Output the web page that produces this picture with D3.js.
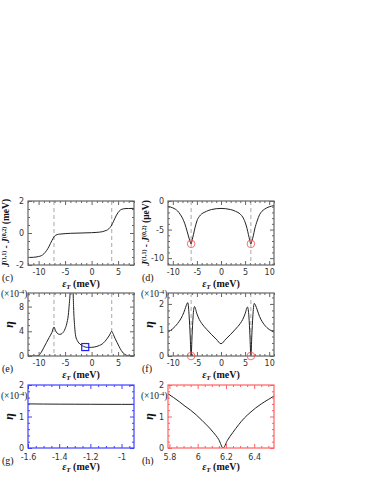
<!DOCTYPE html>
<html><head><meta charset="utf-8">
<script src="https://cdn.jsdelivr.net/npm/d3@7"></script>
<style>body{margin:0;background:#fff}svg{display:block}</style></head>
<body><svg id="fig" width="374" height="484"></svg>
<script>
// ---------- data ----------
const cX = [-12,-11,-10.5,-10,-9.5,-9,-8.5,-8,-7.5,-7,-6.5,-6,-5,-4,-2,0,1,2,2.5,3,3.5,3.8,4.1,4.4,4.7,5,5.4,6,6.5,7,8];
const cY = [-1.53,-1.52,-1.5,-1.47,-1.42,-1.3,-1.1,-0.82,-0.48,-0.2,-0.1,-0.07,-0.04,-0.02,0,0.02,0.04,0.08,0.13,0.2,0.35,0.5,0.7,0.92,1.12,1.28,1.43,1.51,1.53,1.53,1.54];
const dX = [-11,-10.5,-10,-9.5,-9,-8.5,-8,-7.5,-7,-6.7,-6.45,-6.2,-5.95,-5.7,-5.4,-5,-4.5,-4,-3.5,-3,-2.5,-2,-1,0,1,2,2.5,3,3.5,4,4.5,5,5.4,5.7,5.95,6.2,6.45,6.7,7,7.5,8,8.5,9,9.5,10,10.5,11];
const dY = [-0.94,-1.05,-1.2,-1.42,-1.75,-2.3,-3.0,-4.0,-5.4,-6.3,-7.0,-7.5,-6.7,-5.8,-4.7,-3.5,-2.7,-2.25,-2.0,-1.8,-1.62,-1.5,-1.35,-1.3,-1.35,-1.5,-1.62,-1.8,-2.0,-2.3,-2.8,-3.7,-4.8,-5.9,-6.8,-7.5,-6.9,-6.1,-4.9,-3.5,-2.4,-1.8,-1.45,-1.2,-1.02,-0.9,-0.8];
const eX = [-12,-10.5,-10,-9.5,-9,-8.5,-8,-7.5,-7.1,-6.8,-6.5,-6,-5.5,-5,-4.7,-4.4,-4.2,-4.0,-3.8,-3.7,-3.6,-3.4,-3.2,-3.0,-2.7,-2.4,-2,-1.5,-1.2,-0.8,0,0.5,1,1.5,2,2.5,3,3.4,3.8,4.1,4.4,4.8,5.2,5.6,6,6.5,7,8];
const eY = [0,0,0.1,0.6,1.4,2.2,3.0,3.8,4.7,4.1,3.7,3.5,3.7,4.4,5.2,6.6,8.5,11,16,25,16,8,4.8,3.2,2.5,2.1,1.8,1.55,1.45,1.4,1.4,1.45,1.55,1.72,1.95,2.35,2.9,3.4,4.0,3.5,2.9,2.2,1.5,0.9,0.45,0.15,0.03,0];
const fX = [-11,-10,-9,-8,-7.5,-7.2,-6.9,-6.6,-6.4,-6.2,-6.0,-5.8,-5.5,-5,-4.5,-4,-3,-2,-1,0,1,2,3,4,4.5,5,5.5,5.8,6.0,6.2,6.4,6.6,6.9,7.2,7.5,8,9,10,11];
const fY = [0.92,1.05,1.25,1.55,1.78,1.95,2.05,1.5,0.8,0,0.8,1.5,1.9,1.62,1.4,1.25,1.03,0.83,0.65,0.47,0.65,0.83,1.03,1.25,1.4,1.62,1.88,1.5,0.8,0,0.8,1.5,2.02,1.93,1.78,1.52,1.2,1.02,0.92];
const gX = [-1.6,-1.5,-1.4,-1.3,-1.2,-1.1,-1.0,-0.92];
const gY = [1.40,1.395,1.392,1.39,1.388,1.386,1.385,1.385];
const hX = [5.79,5.83,5.87,5.91,5.95,5.99,6.03,6.07,6.11,6.15,6.18,6.21,6.25,6.29,6.33,6.37,6.41,6.45,6.5,6.54];
const hY = [1.72,1.6,1.47,1.33,1.2,1.05,0.88,0.7,0.5,0.26,0,0.24,0.5,0.74,0.95,1.12,1.27,1.4,1.54,1.65];

const ticksX12 = [-10,-5,0,5];
const ticksX11 = [-10,-5,0,5,10];
const ticksGX = [-1.6,-1.4,-1.2,-1];
const ticksHX = [5.8,6,6.2,6.4];
const ticksCY = [-2,0,2];
const ticksDY = [-10,-5,0];
const ticksEY = [0,4,8];
const ticksFY = [0,1,2];
const ticksGY = [0,1,2];
const dashCE = [-7.1,3.8];
const dashDF = [-6.2,6.2];
const circD = [[-6.2,-7.5],[6.2,-7.5]];
const circF = [[-6.2,0],[6.2,0]];
const squareE = [[-1.2,1.45]];

// ---------- drawing ----------
const svg = d3.select('#fig');
const fmt = d => String(+d.toFixed(2));
const TICKFONT = "'DejaVu Sans', sans-serif";
const SERIF = "'Liberation Serif', 'Times New Roman', serif";

function panel(p){
  const g = svg.append('g');
  const x = d3.scaleLinear().domain(p.xDom).range([p.L,p.R]);
  const y = d3.scaleLinear().domain(p.yDom).range([p.B,p.T]);
  const cid = 'clip'+p.id;
  svg.append('clipPath').attr('id',cid).append('rect')
    .attr('x',p.L).attr('y',p.T).attr('width',p.R-p.L).attr('height',p.B-p.T);
  (p.dash||[]).forEach(v => g.append('line')
    .attr('x1',x(v)).attr('x2',x(v)).attr('y1',p.T).attr('y2',p.B)
    .attr('stroke','#a8a8a8').attr('stroke-width',1).attr('stroke-dasharray','4,3'));
  g.append('path').datum(d3.zip(p.xs,p.ys))
    .attr('clip-path',`url(#${cid})`)
    .attr('d', d3.line().x(d=>x(d[0])).y(d=>y(d[1])).curve(d3.curveMonotoneX))
    .attr('fill','none').attr('stroke','#222').attr('stroke-width',1);
  const c = p.color;
  const mk = (axis, tr) => {
    const a = g.append('g').attr('transform',tr).call(axis);
    a.select('.domain').remove();
    a.selectAll('line').attr('stroke',c).attr('stroke-width',1);
    a.selectAll('text').attr('fill','#333').style('font-family',TICKFONT).style('font-size','8px');
    return a;
  };
  const notMajor = (arr, maj) => arr.filter(v => !maj.some(m => Math.abs(m-v)<1e-6));
  const xLo = Math.min(...p.xDom), xHi = Math.max(...p.xDom);
  const xMinor = notMajor(d3.range(Math.ceil(xLo/p.xStep-1e-9)*p.xStep, xHi+1e-9, p.xStep).map(v=>Math.round(v*1000)/1000), p.xMajor);
  const yLo = Math.min(...p.yDom), yHi = Math.max(...p.yDom);
  const yMinor = notMajor(d3.range(Math.ceil(yLo/p.yStep-1e-9)*p.yStep, yHi+1e-9, p.yStep).map(v=>Math.round(v*1000)/1000), p.yMajor);
  mk(d3.axisBottom(x).tickValues(p.xMajor).tickSize(-4).tickPadding(p.xPad||4).tickFormat(fmt), `translate(0,${p.B})`);
  mk(d3.axisBottom(x).tickValues(xMinor).tickSize(-2).tickFormat(''), `translate(0,${p.B})`);
  mk(d3.axisTop(x).tickValues(p.xMajor).tickSize(-4).tickFormat(''), `translate(0,${p.T})`);
  mk(d3.axisTop(x).tickValues(xMinor).tickSize(-2).tickFormat(''), `translate(0,${p.T})`);
  mk(d3.axisLeft(y).tickValues(p.yMajor).tickSize(-4).tickPadding(4).tickFormat(fmt), `translate(${p.L},0)`);
  mk(d3.axisLeft(y).tickValues(yMinor).tickSize(-2).tickFormat(''), `translate(${p.L},0)`);
  mk(d3.axisRight(y).tickValues(p.yMajor).tickSize(-4).tickFormat(''), `translate(${p.R},0)`);
  mk(d3.axisRight(y).tickValues(yMinor).tickSize(-2).tickFormat(''), `translate(${p.R},0)`);
  g.append('rect').attr('x',p.L).attr('y',p.T).attr('width',p.R-p.L).attr('height',p.B-p.T)
    .attr('fill','none').attr('stroke',c).attr('stroke-width',1.2);
  (p.circles||[]).forEach(d => g.append('circle').attr('cx',x(d[0])).attr('cy',y(d[1])).attr('r',3.8)
    .attr('fill','none').attr('stroke','#f05050').attr('stroke-width',0.8));
  (p.squares||[]).forEach(d => g.append('rect').attr('x',x(d[0])-3.5).attr('y',y(d[1])-3.5)
    .attr('width',7).attr('height',7).attr('fill','none').attr('stroke','#2020ff').attr('stroke-width',1.2));
  // x label
  const t = svg.append('text').attr('x',(p.L+p.R)/2).attr('y',p.B+22).attr('text-anchor','middle')
    .style('font-family',SERIF).style('font-weight','bold').style('font-size','10px').attr('fill','#111');
  t.append('tspan').text('ε').style('font-style','italic');
  t.append('tspan').text('T').style('font-style','italic').style('font-size','7px').attr('dy',2);
  t.append('tspan').text(' (meV)').attr('dy',-2);
  // panel letter
  svg.append('text').attr('x',p.L-26).attr('y',p.B+16).text(p.letter)
    .style('font-family',SERIF).style('font-size','10px').attr('fill','#111');
  // y label
  const isEta = p.ylab === 'eta';
  const yl = svg.append('text').attr('transform',`translate(${p.L-(isEta?15:19)},${(p.T+p.B)/2}) rotate(-90)`)
    .attr('text-anchor','middle').style('font-family',SERIF).style('font-weight','bold').attr('fill','#111');
  if (isEta){
    yl.style('font-size','12px').style('font-style','italic').text('η');
  } else {
    yl.style('font-size','9.5px');
    yl.append('tspan').text('J').style('font-style','italic');
    yl.append('tspan').text('(1,1)').style('font-size','6px').attr('dy',-3.5);
    yl.append('tspan').text(' - ').attr('dy',3.5);
    yl.append('tspan').text('J').style('font-style','italic');
    yl.append('tspan').text('(0,2)').style('font-size','6px').attr('dy',-3.5);
    yl.append('tspan').text(' ('+p.ylab+')').attr('dy',3.5);
  }
  if (p.expY !== undefined){
    const ex = svg.append('text').attr('x',p.L-0.5).attr('y',p.expY).attr('text-anchor','end')
      .style('font-family',SERIF).style('font-size','9.5px').attr('fill','#222');
    ex.append('tspan').text('(×10');
    ex.append('tspan').text('-4').style('font-size','6.5px').attr('dy',-3.5);
    ex.append('tspan').text(')').attr('dy',3.5);
  }
}

panel({id:'c',L:28,R:134,T:201,B:265,xDom:[-12,8],yDom:[-2,2],xMajor:ticksX12,xStep:1,yMajor:ticksCY,yStep:0.5,
  color:'#666',xs:cX,ys:cY,dash:dashCE,letter:'(c)',ylab:'meV'});
panel({id:'d',L:168,R:274,T:201,B:265,xDom:[-11,11],yDom:[-11.2,0],xMajor:ticksX11,xStep:1,yMajor:ticksDY,yStep:1,
  color:'#666',xs:dX,ys:dY,dash:dashDF,circles:circD,letter:'(d)',ylab:'μeV'});
panel({id:'e',L:28,R:134,T:293,B:356,xDom:[-12,8],yDom:[0,10.2],xMajor:ticksX12,xStep:1,yMajor:ticksEY,yStep:1,
  color:'#666',xs:eX,ys:eY,dash:dashCE,squares:squareE,letter:'(e)',ylab:'eta',expY:297});
panel({id:'f',L:168,R:274,T:293,B:356,xDom:[-11,11],yDom:[0,2.42],xMajor:ticksX11,xStep:1,yMajor:ticksFY,yStep:0.25,
  color:'#666',xs:fX,ys:fY,dash:dashDF,circles:circF,letter:'(f)',ylab:'eta',expY:297});
panel({id:'g',L:28,R:134,T:385,B:448,xDom:[-1.6,-0.92],yDom:[0,2],xMajor:ticksGX,xStep:0.05,yMajor:ticksGY,yStep:0.2,
  color:'#4040ff',xs:gX,ys:gY,letter:'(g)',ylab:'eta',expY:399,xPad:6});
panel({id:'h',L:168,R:274,T:385,B:448,xDom:[5.79,6.54],yDom:[0,2],xMajor:ticksHX,xStep:0.05,yMajor:ticksGY,yStep:0.2,
  color:'#ff6060',xs:hX,ys:hY,letter:'(h)',ylab:'eta',expY:399,xPad:6});
</script></body></html>
